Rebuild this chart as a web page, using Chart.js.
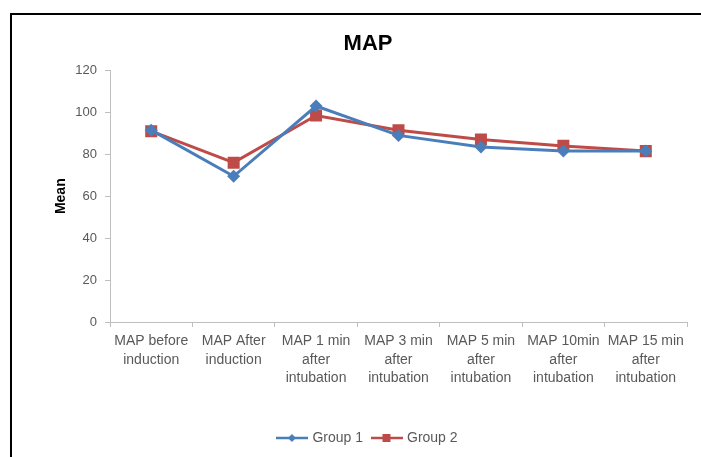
<!DOCTYPE html>
<html>
<head>
<meta charset="utf-8">
<script src="https://cdn.jsdelivr.net/npm/chart.js@4"></script>
<style>
  html, body { margin: 0; padding: 0; background: #fff; }
  #wrap { position: relative; width: 701px; height: 457px; overflow: hidden; }
  #frame { position: absolute; left: 10px; top: 13px; width: 720px; height: 480px;
           border: 2px solid #000; box-sizing: border-box; }
  canvas { position: absolute; left: 0; top: 0; }
</style>
</head>
<body>
<div id="wrap">
  <div id="frame"></div>
  <canvas id="chart" width="701" height="457"></canvas>
</div>
<script>
// Mean arterial pressure at each measurement point
const categories = [
  ['MAP before', 'induction'],
  ['MAP After', 'induction'],
  ['MAP 1 min', 'after', 'intubation'],
  ['MAP 3 min', 'after', 'intubation'],
  ['MAP 5 min', 'after', 'intubation'],
  ['MAP 10min', 'after', 'intubation'],
  ['MAP 15 min', 'after', 'intubation']
];
const group1 = [91.5, 69.5, 103, 89, 83.5, 81.5, 81.5];
const group2 = [91, 76, 98.5, 91.5, 87, 84, 81.5];
const yTicks = [0, 20, 40, 60, 80, 100, 120];

const BLUE = '#4A7EBB';
const RED = '#BE4B48';
const AXIS = '#BFBFBF';
const FONT = 'Liberation Sans, Arial, sans-serif';

// Legend swatch: a short line with the series marker in the middle
function legendSwatch(color, marker) {
  const c = document.createElement('canvas');
  c.width = 32; c.height = 12;
  const g = c.getContext('2d');
  g.strokeStyle = color; g.lineWidth = 2.5;
  g.beginPath(); g.moveTo(0, 6); g.lineTo(32, 6); g.stroke();
  g.fillStyle = color;
  if (marker === 'diamond') {
    g.beginPath(); g.moveTo(16, 2); g.lineTo(20, 6); g.lineTo(16, 10); g.lineTo(12, 6); g.closePath(); g.fill();
  } else {
    g.fillRect(12, 2, 8, 8);
  }
  return c;
}
const swatches = [legendSwatch(BLUE, 'diamond'), legendSwatch(RED, 'square')];

new Chart(document.getElementById('chart'), {
  type: 'line',
  data: {
    labels: categories,
    datasets: [
      {
        label: 'Group 1', data: group1,
        borderColor: BLUE, backgroundColor: BLUE, borderWidth: 3,
        pointStyle: 'rectRot', pointRadius: 6.5, pointHoverRadius: 6.5,
        pointBorderWidth: 0, tension: 0
      },
      {
        label: 'Group 2', data: group2,
        borderColor: RED, backgroundColor: RED, borderWidth: 3,
        pointStyle: 'rect', pointRadius: 8.5, pointHoverRadius: 8.5,
        pointBorderWidth: 0, tension: 0
      }
    ]
  },
  options: {
    responsive: false,
    animation: false,
    events: [],
    layout: { padding: { left: 49, right: 14, top: 17, bottom: 2 } },
    plugins: {
      tooltip: { enabled: false },
      title: {
        display: true, text: 'MAP', color: '#000',
        font: { family: FONT, size: 22, weight: 'bold' },
        padding: { top: 14, bottom: 13 }
      },
      legend: {
        position: 'bottom',
        labels: {
          color: '#595959',
          font: { family: FONT, size: 14 },
          padding: 10,
          usePointStyle: true,
          pointStyleWidth: 27,
          generateLabels(chart) {
            return chart.data.datasets.map((ds, i) => ({
              text: ds.label,
              pointStyle: swatches[i],
              fillStyle: ds.borderColor,
              strokeStyle: ds.borderColor,
              fontColor: '#595959',
              lineWidth: 0,
              hidden: false,
              datasetIndex: i
            }));
          }
        }
      }
    },
    scales: {
      x: {
        offset: true,
        afterFit(scale) { scale.height = 99; },
        border: { color: AXIS, width: 1 },
        grid: { offset: true, drawOnChartArea: false, drawTicks: true, tickLength: 5, color: AXIS },
        ticks: {
          color: '#595959', padding: 5.5, maxRotation: 0, autoSkip: false,
          font: { family: FONT, size: 14, lineHeight: 1.3 }
        }
      },
      y: {
        min: 0, max: 120,
        afterFit(scale) { scale.width = 61; },
        afterBuildTicks(scale) { scale.ticks = yTicks.map(v => ({ value: v })); },
        border: { color: AXIS, width: 1 },
        grid: { drawOnChartArea: false, drawTicks: true, tickLength: 5, color: AXIS },
        ticks: { color: '#595959', padding: 8, font: { family: FONT, size: 13 } },
        title: {
          display: true, text: 'Mean', color: '#000',
          font: { family: FONT, size: 14, weight: 'bold' },
          padding: { top: 4, bottom: 4 }
        }
      }
    }
  }
});
</script>
</body>
</html>
